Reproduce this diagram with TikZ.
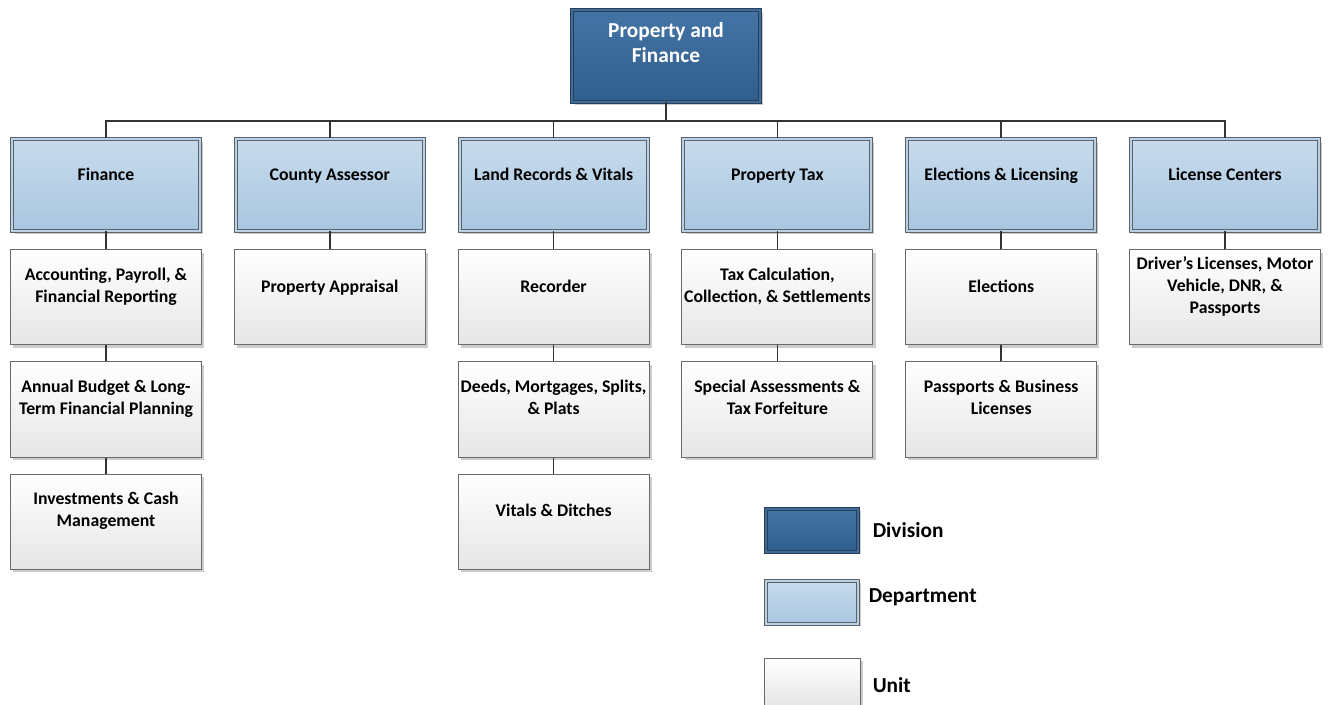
\documentclass[tikz,border=0pt]{standalone}
\usepackage{fontspec}
\setmainfont{Carlito}
\usetikzlibrary{positioning,shadows}

\definecolor{divTop}{HTML}{4474A6}
\definecolor{divBottom}{HTML}{305E8C}
\definecolor{divLine}{HTML}{2B3E54}
\definecolor{deptTop}{HTML}{C8DBED}
\definecolor{deptBottom}{HTML}{A8C6DF}
\definecolor{deptLine}{HTML}{5C6268}
\definecolor{unitBottom}{HTML}{E6E6E6}
\definecolor{unitLine}{HTML}{6A6A6A}
\definecolor{linkLine}{HTML}{333333}

\begin{document}
\begin{tikzpicture}[
    x=0.75pt, y=-0.75pt,
    font=\fontsize{13.3pt}{16.5pt}\selectfont\bfseries,
    boxshadow/.style={
		drop shadow={shadow xshift=2pt, shadow yshift=-2pt, fill=black!20, opacity=1}
	},
    division/.style={
		rectangle,
		boxshadow,
		top color=divTop,
		bottom color=divBottom,
		draw=divLine,
		line width=0.75pt,
		double=divTop!60!divBottom,
		double distance=1.5pt,
		minimum width=141pt,
		minimum height=69pt
	},
    dept/.style={
		rectangle,
		boxshadow,
		top color=deptTop,
		bottom color=deptBottom,
		draw=deptLine,
		line width=0.75pt,
		double=deptTop!50!deptBottom,
		double distance=1.5pt,
		minimum width=141pt,
		minimum height=69pt
	},
    unit/.style={
		rectangle,
		boxshadow,
		top color=white,
		bottom color=unitBottom,
		draw=unitLine,
		line width=0.75pt,
		minimum width=143.25pt,
		minimum height=71.25pt
	},
    divtext/.style={
		text=white,
		font=\fontsize{16pt}{18.75pt}\selectfont\bfseries,
		align=center,
		execute at begin node=\strut,
		execute at end node=\strut,
		yshift=7.5pt
	},
    boxtext/.style={
		align=center,
		execute at begin node=\strut,
		execute at end node=\strut,
		yshift=6.75pt
	},
    keytext/.style={
		font=\fontsize{16pt}{18pt}\selectfont\bfseries,
		inner sep=0pt
	},
    link/.style={
		draw=linkLine,
		line width=1.1pt
	}
  ]
  \useasboundingbox (0,0) rectangle (1330,705);

  % top of the tree
  \node [division, label={[divtext]center:Property and\\Finance}] (division) at (666,56) {};

  % departments, side by side
  \node [dept, label={[boxtext]center:Finance}] (finance) at (106,185) {};
  \node [dept, right=26.1pt of finance, label={[boxtext]center:County Assessor}] (assessor) {};
  \node [dept, right=26.1pt of assessor, label={[boxtext]center:Land Records \& Vitals}] (land) {};
  \node [dept, right=26.1pt of land, label={[boxtext]center:Property Tax}] (proptax) {};
  \node [dept, right=26.1pt of proptax, label={[boxtext]center:Elections \& Licensing}] (elections) {};
  \node [dept, right=26.1pt of elections, label={[boxtext]center:License Centers}] (centers) {};

  % units under each department
  \node [unit, below=13.5pt of finance, label={[boxtext]center:{Accounting, Payroll, \&\\Financial Reporting}}] (accounting) {};
  \node [unit, below=12pt of accounting, label={[boxtext]center:{Annual Budget \& Long-\\Term Financial Planning}}] (budget) {};
  \node [unit, below=12pt of budget, label={[boxtext]center:{Investments \& Cash\\Management}}] (investments) {};

  \node [unit, below=13.5pt of assessor, label={[boxtext]center:Property Appraisal}] (appraisal) {};

  \node [unit, below=13.5pt of land, label={[boxtext]center:Recorder}] (recorder) {};
  \node [unit, below=12pt of recorder, label={[boxtext]center:{Deeds, Mortgages, Splits,\\\& Plats}}] (deeds) {};
  \node [unit, below=12pt of deeds, label={[boxtext]center:Vitals \& Ditches}] (vitals) {};

  \node [unit, below=13.5pt of proptax, label={[boxtext]center:{Tax Calculation,\\Collection, \& Settlements}}] (taxcalc) {};
  \node [unit, below=12pt of taxcalc, label={[boxtext]center:{Special Assessments \&\\Tax Forfeiture}}] (special) {};

  \node [unit, below=13.5pt of elections, label={[boxtext]center:Elections}] (electunit) {};
  \node [unit, below=12pt of electunit, label={[boxtext]center:{Passports \& Business\\Licenses}}] (passports) {};

  \node [unit, below=13.5pt of centers, label={[boxtext]center:{Driver’s Licenses, Motor\\Vehicle, DNR, \&\\Passports}}] (drivers) {};

  % key
  \node [division, minimum width=69pt, minimum height=32.25pt] (keydiv) at (812,530) {};
  \node [keytext, right=10.5pt of keydiv] (keydivtext) {Division};
  \node [dept, minimum width=69pt, minimum height=32.25pt] (keydept) at (812,602) {};
  \node [keytext, right=7.5pt of keydept, yshift=3.75pt] (keydepttext) {Department};
  \node [unit, minimum width=72pt, minimum height=36pt] (keyunit) at (812,682) {};
  \node [keytext, right=9pt of keyunit, yshift=-2.25pt] (keyunittext) {Unit};

  % connectors
  \coordinate (bus) at (666,121);
  \draw [link] (division) -- (bus);
  \draw [link] (bus) -| (finance);
  \draw [link] (bus) -| (assessor);
  \draw [link] (bus) -| (land);
  \draw [link] (bus) -| (proptax);
  \draw [link] (bus) -| (elections);
  \draw [link] (bus) -| (centers);

  \draw [link] (finance) -- (accounting);
  \draw [link] (accounting) -- (budget);
  \draw [link] (budget) -- (investments);
  \draw [link] (assessor) -- (appraisal);
  \draw [link] (land) -- (recorder);
  \draw [link] (recorder) -- (deeds);
  \draw [link] (deeds) -- (vitals);
  \draw [link] (proptax) -- (taxcalc);
  \draw [link] (taxcalc) -- (special);
  \draw [link] (elections) -- (electunit);
  \draw [link] (electunit) -- (passports);
  \draw [link] (centers) -- (drivers);

\end{tikzpicture}
\end{document}
